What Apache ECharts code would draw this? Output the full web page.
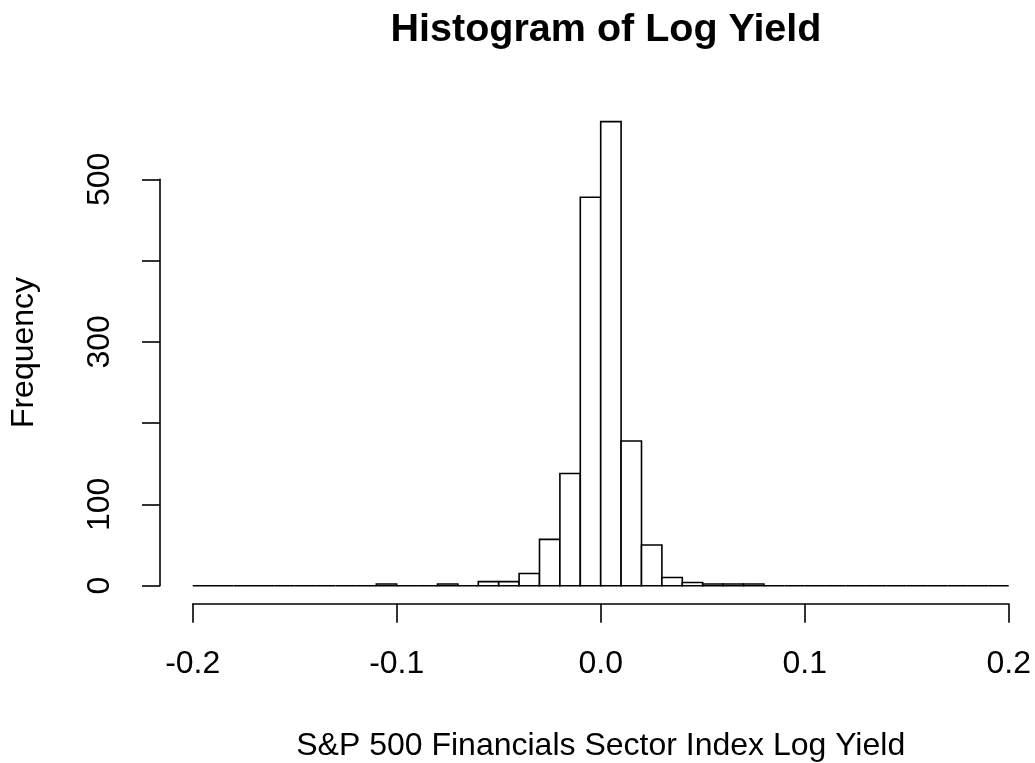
<!DOCTYPE html>
<html>
<head>
<meta charset="utf-8">
<script src="https://cdn.jsdelivr.net/npm/echarts@6/dist/echarts.min.js"></script>
<style>
  html, body { margin: 0; padding: 0; background: #fff; }
  #main { width: 1035px; height: 763px; }
</style>
</head>
<body>
<div id="main"></div>
<script>
// histogram bin edges (width 0.01)
var binLeft = [-0.20, -0.19, -0.18, -0.17, -0.16, -0.15, -0.14, -0.13, -0.12, -0.11,
               -0.10, -0.09, -0.08, -0.07, -0.06, -0.05, -0.04, -0.03, -0.02, -0.01,
                0.00,  0.01,  0.02,  0.03,  0.04,  0.05,  0.06,  0.07,  0.08,  0.09,
                0.10,  0.11,  0.12,  0.13,  0.14,  0.15,  0.16,  0.17,  0.18,  0.19];
var binRight = [-0.19, -0.18, -0.17, -0.16, -0.15, -0.14, -0.13, -0.12, -0.11, -0.10,
                -0.09, -0.08, -0.07, -0.06, -0.05, -0.04, -0.03, -0.02, -0.01,  0.00,
                 0.01,  0.02,  0.03,  0.04,  0.05,  0.06,  0.07,  0.08,  0.09,  0.10,
                 0.11,  0.12,  0.13,  0.14,  0.15,  0.16,  0.17,  0.18,  0.19,  0.20];
var counts = [0, 0, 0, 0, 0, 0, 0, 0, 0, 2,
              0, 0, 2, 0, 5, 5, 15, 57, 138, 478,
              571, 178, 50, 10, 4, 2, 2, 2, 0, 0,
              0, 0, 0, 0, 0, 0, 0, 0, 0, 0];
// R only prints the labels that fit
var yLabelsShown = [0, 100, 300, 500];

var font = 'Liberation Sans, Arial, sans-serif';
var data = counts.map(function (c, i) { return [binLeft[i], binRight[i], c]; });

var chart = echarts.init(document.getElementById('main'));
chart.setOption({
  backgroundColor: '#fff',
  animation: false,
  title: {
    text: 'Histogram of Log Yield',
    left: 601,
    textAlign: 'center',
    top: 5,
    textStyle: { fontFamily: font, fontSize: 39.5, fontWeight: 'bold', color: '#000' }
  },
  grid: { left: 192.7, right: 26.3, top: 179.3, bottom: 177.3, outerBoundsMode: 'none' },
  xAxis: {
    type: 'value',
    min: -0.2,
    max: 0.2,
    interval: 0.1,
    offset: 18,
    splitLine: { show: false },
    axisLine: { onZero: false, lineStyle: { color: '#000', width: 1.6 } },
    axisTick: { length: 19, lineStyle: { color: '#000', width: 1.6 } },
    axisLabel: {
      margin: 44,
      fontFamily: font, fontSize: 32, color: '#000',
      formatter: function (v) { return v.toFixed(1); }
    },
    name: 'S&P 500 Financials Sector Index Log Yield',
    nameLocation: 'middle',
    nameGap: 126,
    nameTextStyle: { fontFamily: font, fontSize: 32, color: '#000' }
  },
  yAxis: {
    type: 'value',
    min: 0,
    max: 500,
    interval: 100,
    offset: 32.7,
    splitLine: { show: false },
    axisLine: { show: true, onZero: false, lineStyle: { color: '#000', width: 1.6 } },
    axisTick: { show: true, length: 18, lineStyle: { color: '#000', width: 1.6 } },
    axisLabel: {
      rotate: 90,
      margin: 44,
      fontFamily: font, fontSize: 32, color: '#000',
      formatter: function (v) { return yLabelsShown.indexOf(v) >= 0 ? String(v) : ''; }
    },
    name: 'Frequency',
    nameLocation: 'middle',
    nameGap: 120,
    nameRotate: 90,
    nameTextStyle: { fontFamily: font, fontSize: 32, color: '#000', padding: [0, 0, 0, 60] }
  },
  series: [{
    type: 'custom',
    clip: false,
    data: data,
    renderItem: function (params, api) {
      var p0 = api.coord([api.value(0), api.value(2)]);
      var p1 = api.coord([api.value(1), 0]);
      return {
        type: 'rect',
        shape: { x: p0[0], y: p0[1], width: p1[0] - p0[0], height: p1[1] - p0[1] },
        style: { fill: '#fff', stroke: '#000', lineWidth: 1.6 }
      };
    }
  }]
});
</script>
</body>
</html>
